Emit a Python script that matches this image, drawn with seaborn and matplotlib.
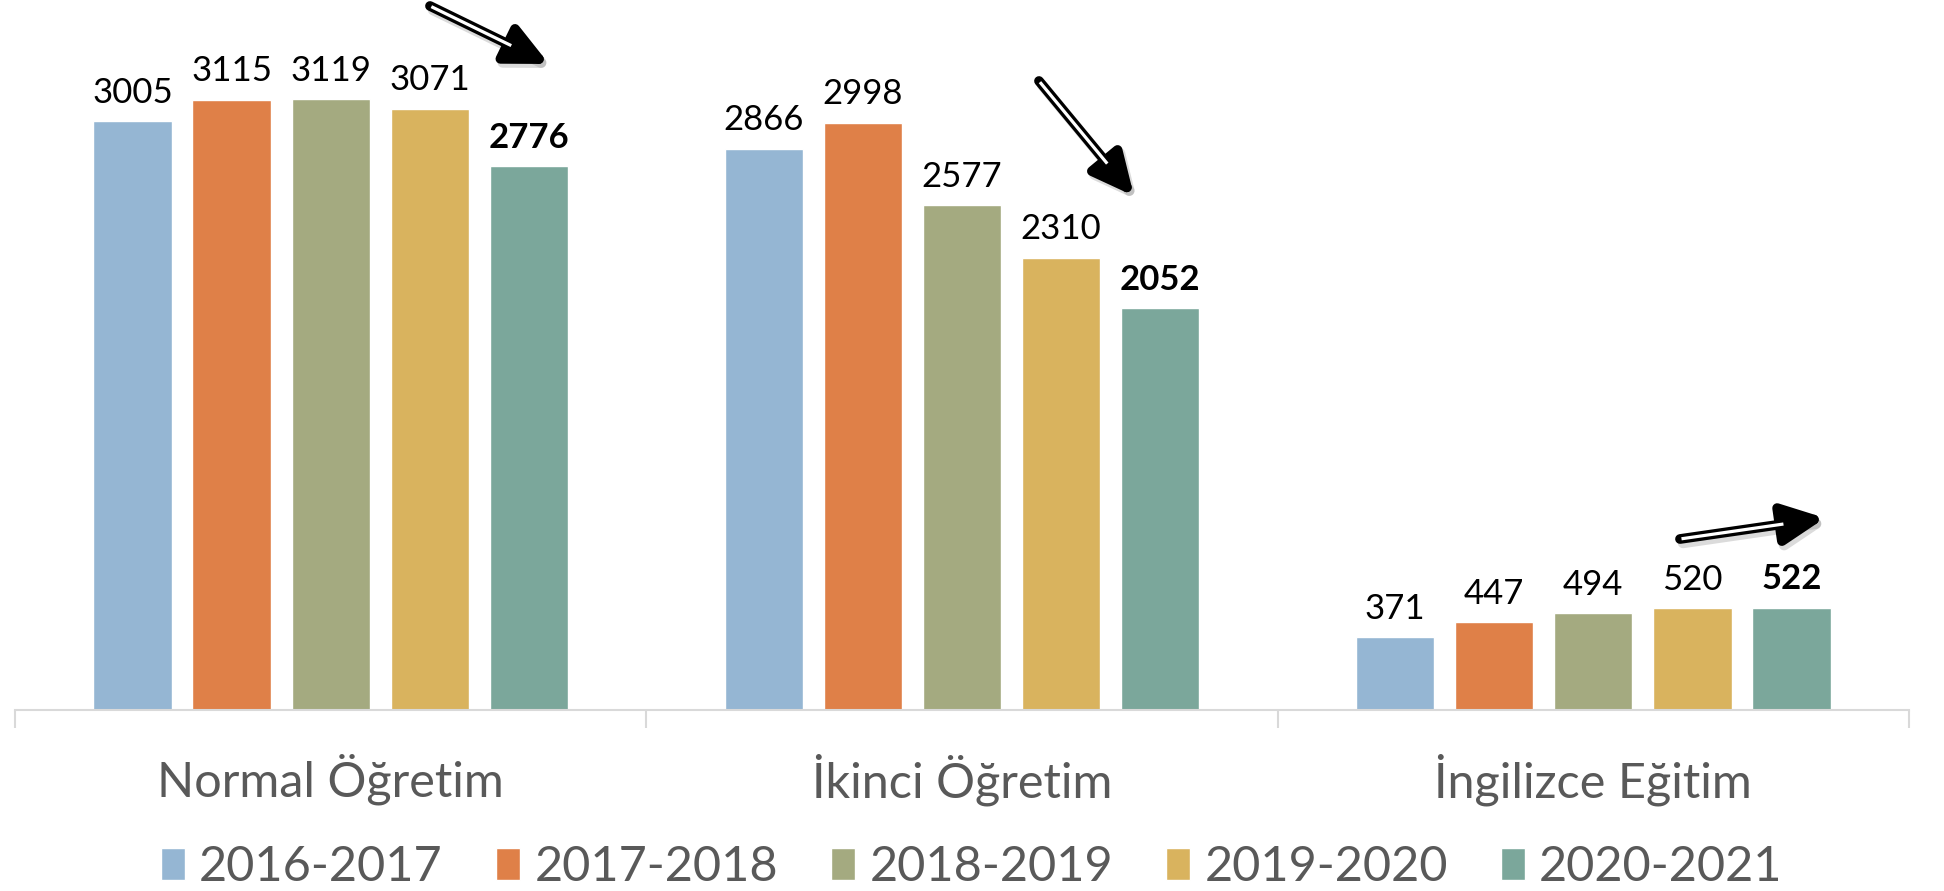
import numpy as np
import pandas as pd
import matplotlib
matplotlib.use("Agg")
import matplotlib.pyplot as plt
import seaborn as sns

categories = ["Normal Öğretim", "İkinci Öğretim", "İngilizce Eğitim"]
years = ["2016-2017", "2017-2018", "2018-2019", "2019-2020", "2020-2021"]
v_2016 = [3005, 2866, 371]
v_2017 = [3115, 2998, 447]
v_2018 = [3119, 2577, 494]
v_2019 = [3071, 2310, 520]
v_2020 = [2776, 2052, 522]
colors = ["#95B6D3", "#DF8048", "#A4AA80", "#D9B35E", "#7BA79B"]

series = [v_2016, v_2017, v_2018, v_2019, v_2020]
rows = []
for y, vals in zip(years, series):
    for c, v in zip(categories, vals):
        rows.append({"cat": c, "year": y, "value": v})
df = pd.DataFrame(rows)

sns.set_style("white")
plt.rcParams['font.family'] = ['Lato', 'DejaVu Sans']

W, H = 1944, 891
fig = plt.figure(figsize=(W / 100, H / 100), dpi=100)
ax = fig.add_axes([15 / W, (H - 710) / H, (1909 - 15) / W, 710 / H])

sns.barplot(data=df, x="cat", y="value", hue="year", palette=colors,
            width=0.785, gap=0.21, ax=ax, legend=True, saturation=1)

ax.set_xlim(-0.5, 2.5)
ax.set_ylim(0, 3625)
ax.set_xlabel("")
ax.set_ylabel("")
ax.set_yticks([])
for s in ["top", "right", "left"]:
    ax.spines[s].set_visible(False)
ax.spines["bottom"].set_color("#D9D9D9")
ax.spines["bottom"].set_linewidth(1.5)

ax.set_xticks([-0.5, 0.5, 1.5, 2.5], minor=True)
ax.tick_params(axis="x", which="minor", bottom=True, length=13,
               color="#D9D9D9", width=1.5)
ax.tick_params(axis="x", which="major", bottom=True, length=0, pad=31,
               labelsize=35, labelcolor="#595959")

for i, cont in enumerate(ax.containers):
    ax.bar_label(cont, labels=[str(int(b.get_height())) for b in cont],
                 padding=9, fontsize=25, color="black",
                 fontweight="bold" if i == len(ax.containers) - 1 else "normal")

leg = ax.legend(loc="center", bbox_to_anchor=(0.5, 24 / H),
                bbox_transform=fig.transFigure, ncol=5, frameon=False,
                fontsize=35, handlelength=0.48, handleheight=0.65,
                handletextpad=0.3, columnspacing=1.1, borderaxespad=0)
for t in leg.get_texts():
    t.set_color("#595959")

def draw_arrow(p0, p1):
    x0, y0 = p0[0], H - p0[1]
    x1, y1 = p1[0], H - p1[1]
    style = "-|>,head_length=1.25,head_width=0.6"
    # shadow
    ax.annotate("", xy=(x1 + 3, y1 - 4), xytext=(x0 + 3, y0 - 4),
                xycoords="figure pixels", textcoords="figure pixels",
                arrowprops=dict(arrowstyle=style, lw=7.5, color="#888888",
                                alpha=0.3, shrinkA=0, shrinkB=0,
                                mutation_scale=20),
                zorder=5)
    ax.annotate("", xy=(x1, y1), xytext=(x0, y0),
                xycoords="figure pixels", textcoords="figure pixels",
                arrowprops=dict(arrowstyle=style, lw=7, color="black",
                                shrinkA=0, shrinkB=0, mutation_scale=20),
                zorder=6)
    d = np.hypot(x1 - x0, y1 - y0)
    ux, uy = (x1 - x0) / d, (y1 - y0) / d
    ex, ey = x1 - ux * 42, y1 - uy * 42
    sx, sy = x0 + ux * 1.5, y0 + uy * 1.5
    ax.plot([sx / W, ex / W], [sy / H, ey / H], transform=fig.transFigure,
            color="white", lw=2.3, solid_capstyle="butt", clip_on=False,
            zorder=10)

draw_arrow((430, 6), (549, 64))
draw_arrow((1039, 81), (1134, 196))
draw_arrow((1680, 539), (1825, 518))

fig.savefig("out.png", dpi=100)
